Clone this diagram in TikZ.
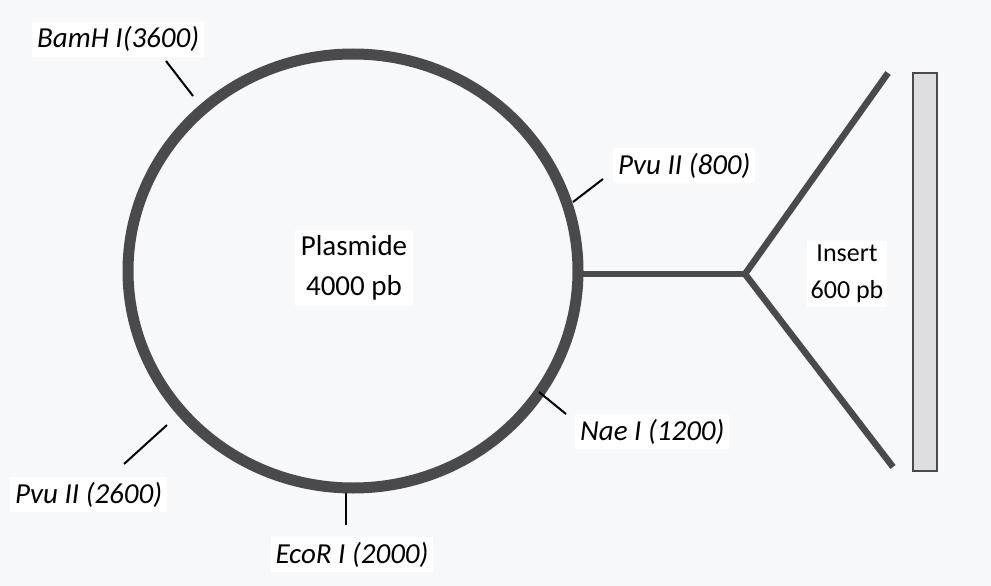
\documentclass[tikz,border=0pt]{standalone}
\usepackage{fontspec}
\setmainfont{Carlito}
\usepackage{tikz}
\definecolor{ring}{RGB}{74,74,76}
\definecolor{paper}{RGB}{247,248,250}
\definecolor{barfill}{RGB}{222,222,224}
\tikzset{site/.style={fill=white,inner sep=5pt,font=\fontsize{29}{35}\selectfont\itshape}}
\tikzset{txt/.style={fill=white,align=center,inner sep=6pt,font=\fontsize{29}{40}\selectfont}}
\tikzset{tick/.style={black,line width=2pt}}
\tikzset{dna/.style={ring,line width=6.5pt}}

\begin{document}
\begin{tikzpicture}[x=1pt,y=-1pt]
\fill[paper] (0,0) rectangle (991,586);
\useasboundingbox (0,0) rectangle (991,586);

\node[txt](plasmid) at (354,268) {Plasmide\\4000 pb};
\draw[ring,line width=11pt] (353,271) ellipse [x radius=225pt, y radius=217pt];

\node[site,anchor=base west](bamh) at (32,48) {BamH I(3600)};
\node[site,anchor=base west](pvu8) at (613,174) {Pvu II (800)};
\node[site,anchor=base west](nae) at (575,440) {Nae I (1200)};
\node[site,anchor=base west](pvu26) at (10,503) {Pvu II (2600)};
\node[site,anchor=base](ecor) at (352,563) {EcoR I (2000)};

\coordinate (bamhA) at (166,61);
\coordinate (bamhB) at (193,96);
\coordinate (pvu8A) at (603,179);
\coordinate (pvu8B) at (573,202);
\coordinate (naeA) at (566,414);
\coordinate (naeB) at (539,392);
\coordinate (pvu26A) at (124,464);
\coordinate (pvu26B) at (167,425);
\coordinate (ecorA) at (346,525);
\coordinate (ecorB) at (346,493);

\draw[tick] (bamhA) -- (bamhB);
\draw[tick] (pvu8A) -- (pvu8B);
\draw[tick] (naeA) -- (naeB);
\draw[tick] (pvu26A) -- (pvu26B);
\draw[tick] (ecorA) -- (ecorB);

\coordinate (ringR) at (578,274);
\coordinate (fork) at (745,274);
\coordinate (armup) at (888,73);
\coordinate (armdown) at (893,467);
\draw[dna] (ringR) -- (fork);
\draw[dna] (armup) -- (fork) -- (armdown);

\node[draw=ring,line width=2pt,fill=barfill,minimum width=24pt,minimum height=398pt,inner sep=0pt](bar) at (925,272) {};
\node[txt,font=\fontsize{26}{37}\selectfont,inner sep=4pt](insert) at (847,274) {Insert\\600 pb};
\end{tikzpicture}
\end{document}
